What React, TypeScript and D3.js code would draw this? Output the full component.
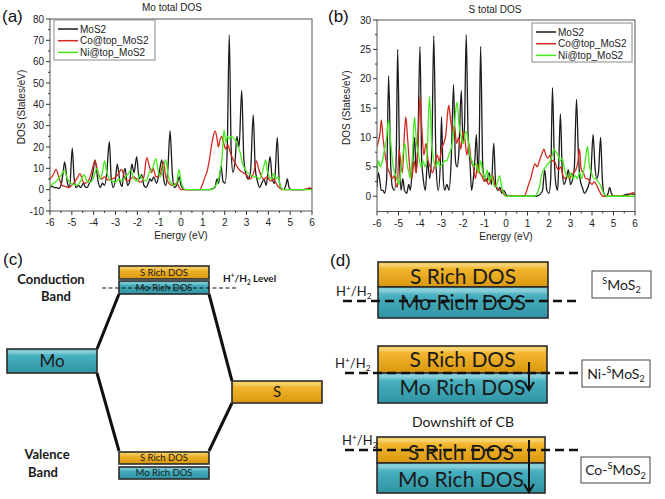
import React from "react";
import * as d3 from "d3";

type Pt = [number, number];

// ---------- data ----------
const energyTicks = [-6, -5, -4, -3, -2, -1, 0, 1, 2, 3, 4, 5, 6];
const moYTicks = [-10, 0, 10, 20, 30, 40, 50, 60, 70, 80];
const sYTicks = [0, 5, 10, 15, 20, 25, 30];
const seriesNames = ["MoS2", "Co@top_MoS2", "Ni@top_MoS2"];
const seriesColors = ["#1b1b1b", "#d32a1f", "#44ec1c"];

const moDosMoS2: Pt[] = [[-6,1],[-5.9,1.5],[-5.8,1],[-5.7,1],[-5.6,0.5],[-5.5,2],[-5.4,8],[-5.33,13],[-5.2,3],[-5.1,1],[-4.98,19.5],[-4.9,6],[-4.8,1],[-4.7,2],[-4.6,1],[-4.47,3],[-4.4,1.5],[-4.3,1],[-4.2,3],[-4.1,5],[-4.02,9],[-3.94,14],[-3.8,4],[-3.7,1],[-3.6,3],[-3.5,2],[-3.4,8],[-3.28,22.5],[-3.2,6],[-3.1,1],[-3.0,5],[-2.92,12],[-2.8,4],[-2.7,1.5],[-2.62,8],[-2.56,10],[-2.45,2],[-2.35,4],[-2.25,12],[-2.15,8],[-2.03,15.5],[-1.92,5],[-1.8,7],[-1.7,2],[-1.6,1],[-1.5,3],[-1.42,5],[-1.35,4],[-1.25,6],[-1.12,3],[-1.0,8],[-0.88,14],[-0.78,4],[-0.7,2],[-0.6,10],[-0.5,27.5],[-0.4,8],[-0.3,1],[-0.2,2],[-0.08,6],[0,2],[0.1,0.5],[0.2,0],[1.3,0],[1.45,0.5],[1.55,1],[1.65,5],[1.72,3],[1.84,11],[1.92,4],[2.02,3],[2.12,20],[2.21,72.5],[2.3,18],[2.38,8],[2.48,14],[2.56,25],[2.66,20],[2.78,46.5],[2.88,14],[2.98,7],[3.08,5],[3.18,8],[3.31,35],[3.4,10],[3.5,4],[3.6,1],[3.7,3],[3.8,5],[3.9,2],[4.0,10],[4.08,15.5],[4.18,5],[4.28,3],[4.41,24.5],[4.5,4],[4.6,0.5],[4.7,0],[4.8,2],[4.87,5],[4.95,1],[5.05,0],[5.6,0],[5.75,0.3],[5.9,0.6],[6,0.3]];
const moDosCo: Pt[] = [[-6,5],[-5.85,7],[-5.72,9.5],[-5.6,6],[-5.45,2],[-5.3,1.5],[-5.15,1],[-5.0,2],[-4.85,4],[-4.72,6],[-4.63,7.5],[-4.5,4],[-4.4,3],[-4.25,4],[-4.1,8],[-3.94,13.5],[-3.8,8],[-3.65,5],[-3.5,6],[-3.35,4.5],[-3.2,5],[-3.05,5.5],[-2.9,7],[-2.72,9.5],[-2.6,6],[-2.45,4],[-2.3,5],[-2.15,6],[-2.0,4.5],[-1.85,3.5],[-1.7,6],[-1.57,15],[-1.45,11],[-1.35,8],[-1.27,10],[-1.15,6],[-0.96,7],[-0.88,10],[-0.8,13],[-0.7,6],[-0.55,3],[-0.4,2],[-0.3,2.5],[-0.18,3],[-0.08,1],[0,0],[0.85,0],[1.0,3],[1.1,6],[1.18,8],[1.3,14],[1.42,22],[1.56,27.5],[1.65,24],[1.71,20],[1.78,23],[1.86,25],[1.95,22],[2.05,19],[2.15,21],[2.24,18],[2.35,15],[2.45,13],[2.55,11],[2.7,9],[2.85,8],[3.0,7],[3.15,5],[3.25,6],[3.33,8],[3.45,13.5],[3.55,10],[3.65,7],[3.8,5],[3.95,6],[4.1,4],[4.25,5],[4.35,3],[4.45,1.5],[4.6,0.3],[4.75,0],[5.6,0],[5.75,0.4],[5.9,0.8],[6,0.5]];
const moDosNi: Pt[] = [[-6,1.5],[-5.85,3],[-5.7,4],[-5.55,6],[-5.42,8],[-5.34,9],[-5.2,5],[-5.05,3],[-4.9,2.5],[-4.75,2],[-4.6,4],[-4.45,7],[-4.3,4],[-4.15,3.5],[-4.0,6],[-3.85,10],[-3.72,5],[-3.6,8],[-3.5,13.5],[-3.4,8],[-3.28,5],[-3.15,4],[-3.0,3.5],[-2.85,5],[-2.7,4],[-2.55,6],[-2.45,7],[-2.3,9],[-2.15,5],[-2.0,4],[-1.9,7],[-1.75,5],[-1.6,4],[-1.45,8],[-1.3,10],[-1.15,14.5],[-1.05,9],[-0.95,6],[-0.82,10],[-0.7,14],[-0.58,6],[-0.45,3],[-0.3,2],[-0.18,4],[-0.09,9.5],[0,4],[0.1,1],[0.2,0],[1.4,0],[1.55,1.5],[1.7,4],[1.8,9],[1.88,15],[1.97,28],[2.05,22],[2.13,25],[2.22,24],[2.3,25],[2.42,24],[2.52,23],[2.62,20],[2.72,17],[2.82,12],[2.92,10],[3.05,8],[3.18,7],[3.3,6],[3.45,6],[3.6,5],[3.72,8],[3.82,12],[3.88,14],[3.95,9],[4.05,6],[4.15,5],[4.25,7.5],[4.35,5],[4.45,6],[4.52,3],[4.6,0.5],[4.7,0],[6,0]];

const sDosMoS2: Pt[] = [[-6,1.5],[-5.94,4],[-5.88,3],[-5.8,1],[-5.72,1],[-5.65,0.5],[-5.55,3],[-5.46,20.5],[-5.36,5],[-5.28,1.5],[-5.18,1],[-5.1,8],[-5.04,25],[-4.95,6],[-4.88,1],[-4.8,3],[-4.72,1],[-4.62,0.5],[-4.52,2],[-4.45,1],[-4.35,5],[-4.25,10],[-4.18,4],[-4.1,9],[-4.0,25.5],[-3.92,6],[-3.85,3],[-3.75,1],[-3.65,6],[-3.55,3],[-3.45,8],[-3.36,27.3],[-3.25,5],[-3.15,1],[-3.05,6],[-3.0,13.5],[-2.92,3],[-2.85,1],[-2.75,2],[-2.65,1],[-2.55,6],[-2.44,19],[-2.35,6],[-2.28,5],[-2.2,7],[-2.08,18],[-2.0,9],[-1.93,12],[-1.85,27.5],[-1.76,10],[-1.68,6],[-1.6,1],[-1.52,3],[-1.45,6],[-1.38,10.5],[-1.3,4],[-1.25,8],[-1.18,25.5],[-1.08,5],[-1.0,3],[-0.9,2.5],[-0.78,4],[-0.68,2],[-0.57,9],[-0.48,2],[-0.38,1],[-0.28,1.5],[-0.2,0.5],[-0.1,1],[0,0.3],[0.1,0],[1.4,0],[1.55,0.2],[1.7,1],[1.8,4.5],[1.9,1],[2.0,0.5],[2.08,3],[2.16,18.5],[2.25,6],[2.32,2],[2.4,1],[2.45,5],[2.53,14],[2.62,4],[2.7,2],[2.8,3],[2.9,4.5],[3.0,2],[3.1,3],[3.18,5],[3.28,16.5],[3.36,8],[3.44,3],[3.55,1.5],[3.65,0.5],[3.75,1],[3.85,2],[3.95,4],[4.05,10.5],[4.14,5],[4.22,3],[4.3,4],[4.4,10],[4.48,3],[4.55,0.5],[4.65,0],[4.75,0.5],[4.82,1.5],[4.9,0.5],[5.0,0],[5.3,0],[5.5,0.2],[5.8,0.4],[6,0.3]];
const sDosCo: Pt[] = [[-6,8.5],[-5.92,9.5],[-5.85,11],[-5.8,13],[-5.72,10],[-5.62,7],[-5.52,5],[-5.42,4],[-5.3,3],[-5.2,3.5],[-5.12,2],[-5.05,1.5],[-4.98,8],[-4.9,6],[-4.82,4],[-4.72,11],[-4.66,13.5],[-4.58,10],[-4.48,5],[-4.38,3],[-4.28,6],[-4.18,4],[-4.08,10],[-4.0,17],[-3.92,12],[-3.82,7],[-3.72,9],[-3.62,6],[-3.52,5],[-3.42,4],[-3.3,5.5],[-3.2,7],[-3.1,6],[-3.0,8],[-2.9,9],[-2.8,10.5],[-2.72,14],[-2.66,15.5],[-2.58,13],[-2.48,11],[-2.4,12],[-2.3,9],[-2.2,10],[-2.1,8],[-2.0,11],[-1.92,10],[-1.82,7],[-1.72,9],[-1.62,6],[-1.52,5],[-1.42,3],[-1.32,5.5],[-1.22,4],[-1.12,3.5],[-1.02,2.5],[-0.92,3],[-0.82,2],[-0.72,2.5],[-0.62,3.5],[-0.52,2],[-0.42,1.5],[-0.3,1],[-0.2,1],[-0.1,0.3],[0,0],[0.85,0],[0.95,0.8],[1.05,2],[1.15,3],[1.25,4.5],[1.35,5.5],[1.45,5],[1.55,6],[1.65,7],[1.77,8],[1.85,7],[1.95,6.5],[2.05,7],[2.15,6],[2.25,6],[2.35,5],[2.45,4.5],[2.55,5],[2.65,3.5],[2.75,3],[2.85,3.5],[2.95,3],[3.05,3.5],[3.15,4],[3.25,4.5],[3.35,6],[3.42,8],[3.5,4.5],[3.6,4],[3.7,3],[3.8,3],[3.9,2.5],[4.0,2],[4.1,2.5],[4.2,2],[4.3,1.2],[4.4,0.5],[4.5,0],[5.6,0],[5.75,0.3],[5.9,0.6],[6,0.4]];
const sDosNi: Pt[] = [[-6,4],[-5.93,6],[-5.85,5],[-5.75,6],[-5.65,8],[-5.55,10],[-5.47,13],[-5.38,10],[-5.28,6],[-5.18,4],[-5.08,3],[-4.98,2],[-4.9,4],[-4.8,7],[-4.7,9],[-4.62,6],[-4.52,4],[-4.45,3],[-4.35,7],[-4.26,13.5],[-4.16,9],[-4.06,7],[-3.96,5],[-3.86,6],[-3.76,5],[-3.66,8],[-3.56,17],[-3.46,9],[-3.36,6],[-3.26,5],[-3.16,6],[-3.06,5],[-2.96,5.5],[-2.86,6],[-2.76,6],[-2.66,7],[-2.56,8],[-2.46,10],[-2.38,13],[-2.28,16],[-2.18,12],[-2.08,10],[-1.98,9],[-1.88,11],[-1.78,10],[-1.68,7],[-1.58,6],[-1.48,5],[-1.38,5.5],[-1.28,4],[-1.18,6],[-1.08,4],[-0.98,3],[-0.88,4.5],[-0.78,2.5],[-0.68,3.5],[-0.58,2],[-0.48,1.5],[-0.38,2.5],[-0.3,3.5],[-0.2,1.5],[-0.1,0.5],[0,0],[1.35,0],[1.45,0.5],[1.55,1.5],[1.65,3.5],[1.75,4.5],[1.85,5],[1.95,5.5],[2.05,6],[2.15,7],[2.23,8],[2.32,7.5],[2.42,7],[2.52,6],[2.62,6.5],[2.72,4.5],[2.82,3.5],[2.92,3],[3.02,4],[3.12,3],[3.22,3.5],[3.32,3],[3.42,4],[3.52,3],[3.62,4.5],[3.72,7],[3.79,8.5],[3.88,5],[3.98,4],[4.08,3],[4.18,3],[4.28,2.5],[4.38,2],[4.48,1],[4.58,0.3],[4.68,0],[6,0]];

const moSeries = [moDosMoS2, moDosCo, moDosNi];
const sSeries = [sDosMoS2, sDosCo, sDosNi];

const FONT = "Arial, 'Liberation Sans', sans-serif";
const DFONT = "Lato, 'Open Sans', sans-serif";

type PanelProps = {
  id: string;
  title: string;
  x0: number; x1: number; y0: number; y1: number;
  yDomain: [number, number];
  yTicks: number[];
  yMinorStep: number;
  series: Pt[][];
  legend: { x: number; y: number; w: number; h: number };
  yLabelX: number;
  titleX: number;
  titleY: number;
};

function DosPanel(p: PanelProps) {
  const x = d3.scaleLinear().domain([-6, 6]).range([p.x0, p.x1]);
  const y = d3.scaleLinear().domain(p.yDomain).range([p.y1, p.y0]);
  const line = d3.line<Pt>().x(d => x(d[0])).y(d => y(d[1])).curve(d3.curveMonotoneX);
  const yMinor: number[] = [];
  for (let i = 0; i < p.yTicks.length - 1; i++) yMinor.push(p.yTicks[i] + p.yMinorStep);
  const xMinor = energyTicks.slice(0, -1).map(t => t + 0.5);
  const tc = "#333";
  return (
    <g>
      <defs>
        <clipPath id={p.id}>
          <rect x={p.x0} y={p.y0} width={p.x1 - p.x0} height={p.y1 - p.y0} />
        </clipPath>
      </defs>
      <text x={p.titleX} y={p.titleY} textAnchor="middle" fontFamily={FONT} fontSize={10} fill="#222">{p.title}</text>
      <g clipPath={`url(#${p.id})`}>
        {p.series.map((s, i) => (
          <path key={i} d={line(s) || ""} fill="none" stroke={seriesColors[i]} strokeWidth={1.3} strokeLinejoin="round" />
        ))}
      </g>
      <rect x={p.x0} y={p.y0} width={p.x1 - p.x0} height={p.y1 - p.y0} fill="none" stroke="#555" strokeWidth={1} />
      {p.yTicks.map(t => (
        <g key={"yt" + t}>
          <line x1={p.x0 - 4} x2={p.x0} y1={y(t)} y2={y(t)} stroke={tc} />
          <text x={p.x0 - 6} y={y(t) + 3.5} textAnchor="end" fontFamily={FONT} fontSize={10} fill="#222">{t}</text>
        </g>
      ))}
      {yMinor.map(t => (
        <line key={"ym" + t} x1={p.x0 - 2} x2={p.x0} y1={y(t)} y2={y(t)} stroke={tc} />
      ))}
      {energyTicks.map(t => (
        <g key={"xt" + t}>
          <line x1={x(t)} x2={x(t)} y1={p.y1} y2={p.y1 + 4} stroke={tc} />
          <text x={x(t)} y={p.y1 + 15} textAnchor="middle" fontFamily={FONT} fontSize={10} fill="#222">{t}</text>
        </g>
      ))}
      {xMinor.map(t => (
        <line key={"xm" + t} x1={x(t)} x2={x(t)} y1={p.y1} y2={p.y1 + 2} stroke={tc} />
      ))}
      <text x={(p.x0 + p.x1) / 2} y={p.y1 + 28} textAnchor="middle" fontFamily={FONT} fontSize={10} fill="#222">Energy (eV)</text>
      <text transform={`translate(${p.yLabelX},${(p.y0 + p.y1) / 2 - 8}) rotate(-90)`} textAnchor="middle" fontFamily={FONT} fontSize={10} fill="#222">DOS (States/eV)</text>
      <rect x={p.legend.x} y={p.legend.y} width={p.legend.w} height={p.legend.h} fill="#fff" stroke="#8a8a8a" strokeWidth={1} />
      {seriesNames.map((n, i) => {
        const ly = p.legend.y + 9 + i * 11.7;
        return (
          <g key={n}>
            <line x1={p.legend.x + 4} x2={p.legend.x + 24} y1={ly} y2={ly} stroke={seriesColors[i]} strokeWidth={1.5} />
            <text x={p.legend.x + 26} y={ly + 3.5} fontFamily={FONT} fontSize={10} fill="#222">{n}</text>
          </g>
        );
      })}
    </g>
  );
}

function Bar({ x, y, w, h, kind, label, fs, ty }: { x: number; y: number; w: number; h: number; kind: "or" | "te"; label?: string; fs?: number; ty?: number }) {
  return (
    <g>
      <rect x={x} y={y} width={w} height={h} fill={`url(#g${kind})`} stroke="#2b2b2b" strokeWidth={1.6} />
      <rect x={x + 2} y={y + 2} width={w - 4} height={Math.max(1, h * 0.12)} fill="#fff" opacity={0.18} />
      {label && (
        <text x={x + w / 2} y={ty !== undefined ? ty : y + h / 2 + (fs || 10) * 0.35} textAnchor="middle" fontFamily={DFONT} fontSize={fs || 10} fill="#1a1a1a">{label}</text>
      )}
    </g>
  );
}

function HLabel({ x, y, fs }: { x: number; y: number; fs: number }) {
  return (
    <text x={x} y={y} fontFamily={DFONT} fontSize={fs} fill="#1a1a1a">
      H<tspan fontSize={fs * 0.65} dy={-fs * 0.4}>+</tspan>
      <tspan dy={fs * 0.4}>/H</tspan>
      <tspan fontSize={fs * 0.65} dy={fs * 0.25}>2</tspan>
    </text>
  );
}

function SampleBox({ x, y, w, h, prefix }: { x: number; y: number; w: number; h: number; prefix: string }) {
  const fs = 14;
  return (
    <g>
      <rect x={x} y={y} width={w} height={h} fill="#fff" stroke="#444" strokeWidth={1} />
      <text x={x + w / 2} y={y + h / 2 + 5} textAnchor="middle" fontFamily={DFONT} fontSize={fs} fill="#1a1a1a">
        {prefix}
        <tspan fontSize={fs * 0.65} dy={-fs * 0.4}>S</tspan>
        <tspan dy={fs * 0.4}>MoS</tspan>
        <tspan fontSize={fs * 0.65} dy={fs * 0.25}>2</tspan>
      </text>
    </g>
  );
}

function Arrow({ x, y1, y2 }: { x: number; y1: number; y2: number }) {
  return (
    <g stroke="#111" strokeWidth={2} fill="none">
      <line x1={x} x2={x} y1={y1} y2={y2} />
      <polyline points={`${x - 5},${y2 - 8} ${x},${y2} ${x + 5},${y2 - 8}`} strokeLinejoin="miter" />
    </g>
  );
}

export default function App() {
  return (
    <svg width={665} height={499} style={{ position: "absolute", left: 0, top: 0, background: "#fff" }}>
      <defs>
        <linearGradient id="gor" x1="0" y1="0" x2="0" y2="1">
          <stop offset="0" stopColor="#f7d468" />
          <stop offset="0.3" stopColor="#f1b42c" />
          <stop offset="1" stopColor="#d8980f" />
        </linearGradient>
        <linearGradient id="gte" x1="0" y1="0" x2="0" y2="1">
          <stop offset="0" stopColor="#86d0da" />
          <stop offset="0.3" stopColor="#47afbf" />
          <stop offset="1" stopColor="#2f93a3" />
        </linearGradient>
      </defs>
      <rect width={665} height={499} fill="#fff" />

      {/* (a) */}
      <text x={2} y={22} fontFamily={FONT} fontSize={17} fill="#111">(a)</text>
      <DosPanel id="clipA" title="Mo total DOS" x0={50} x1={312} y0={19} y1={211}
        yDomain={[-10, 80]} yTicks={moYTicks} yMinorStep={5} series={moSeries}
        legend={{ x: 54, y: 20, w: 101, h: 40 }} yLabelX={25} titleX={172} titleY={11} />

      {/* (b) */}
      <text x={328} y={22} fontFamily={FONT} fontSize={17} fill="#111">(b)</text>
      <DosPanel id="clipB" title="S total DOS" x0={377} x1={635} y0={20} y1={211.5}
        yDomain={[-2.6, 30]} yTicks={sYTicks} yMinorStep={2.5} series={sSeries}
        legend={{ x: 532, y: 23, w: 100, h: 39 }} yLabelX={350} titleX={495} titleY={13} />

      {/* (c) */}
      <text x={3} y={265} fontFamily={FONT} fontSize={17} fill="#111">(c)</text>
      <g stroke="#111" strokeWidth={3} fill="none">
        <line x1={119} y1={294} x2={97} y2={349} />
        <line x1={97} y1={373} x2={119} y2={451} />
        <line x1={209} y1={294} x2={232} y2={381} />
        <line x1={232} y1={403} x2={209} y2={451} />
      </g>
      <Bar x={119} y={266} w={90} h={13} kind="or" label="S Rich DOS" fs={9.5} />
      <Bar x={119} y={281} w={90} h={13} kind="te" label="Mo Rich DOS" fs={9.5} />
      <line x1={102} x2={237} y1={288} y2={288} stroke="#111" strokeWidth={1.2} strokeDasharray="4,2.5" />
      <text x={223} y={282} fontFamily={DFONT} fontSize={10} fontWeight="bold" fill="#1a1a1a">
        H<tspan fontSize={6.5} dy={-4}>+</tspan><tspan dy={4}>/H</tspan><tspan fontSize={6.5} dy={2.5}>2</tspan><tspan dy={-2.5}> Level</tspan>
      </text>
      <text x={51} y={284} textAnchor="middle" fontFamily={DFONT} fontSize={13} fontWeight="bold" fill="#1a1a1a">Conduction</text>
      <text x={56} y={301} textAnchor="middle" fontFamily={DFONT} fontSize={13} fontWeight="bold" fill="#1a1a1a">Band</text>
      <Bar x={7} y={349} w={90} h={24} kind="te" label="Mo" fs={17} />
      <Bar x={232} y={381} w={90} h={22} kind="or" label="S" fs={15} />
      <Bar x={119} y={452} w={90} h={12} kind="or" label="S Rich DOS" fs={9.5} />
      <Bar x={119} y={467} w={90} h={12} kind="te" label="Mo Rich DOS" fs={9.5} />
      <text x={47} y={459} textAnchor="middle" fontFamily={DFONT} fontSize={13} fontWeight="bold" fill="#1a1a1a">Valence</text>
      <text x={43} y={477} textAnchor="middle" fontFamily={DFONT} fontSize={13} fontWeight="bold" fill="#1a1a1a">Band</text>

      {/* (d) */}
      <text x={330} y={266} fontFamily={FONT} fontSize={17} fill="#111">(d)</text>

      <Bar x={378} y={262} w={170} h={25} kind="or" label="S Rich DOS" fs={21} ty={284} />
      <Bar x={378} y={287} w={170} h={31} kind="te" label="Mo Rich DOS" fs={21} ty={310} />
      <line x1={343} x2={577} y1={301} y2={301} stroke="#111" strokeWidth={2.5} strokeDasharray="9,5" />
      <HLabel x={336} y={296} fs={13} />
      <SampleBox x={592} y={271} w={59} h={27} prefix="" />

      <Bar x={378} y={346} w={169} h={27} kind="or" label="S Rich DOS" fs={21} ty={367} />
      <Bar x={378} y={373} w={169} h={30} kind="te" label="Mo Rich DOS" fs={21} ty={395} />
      <line x1={345} x2={578} y1={373} y2={373} stroke="#111" strokeWidth={2.5} strokeDasharray="9,5" />
      <HLabel x={335} y={368} fs={13} />
      <Arrow x={529} y1={362} y2={390} />
      <SampleBox x={582} y={360} w={68} h={27} prefix="Ni-" />

      <text x={463} y={427} textAnchor="middle" fontFamily={DFONT} fontSize={14} fill="#1a1a1a">Downshift of CB</text>

      <Bar x={377} y={437} w={168} h={26} kind="or" label="S Rich DOS" fs={21} ty={460} />
      <Bar x={377} y={463} w={168} h={30} kind="te" label="Mo Rich DOS" fs={21} ty={487} />
      <line x1={345} x2={580} y1={450} y2={450} stroke="#111" strokeWidth={2.5} strokeDasharray="9,5" />
      <HLabel x={342} y={445} fs={13} />
      <Arrow x={529} y1={440} y2={492} />
      <SampleBox x={581} y={457} w={69} h={26} prefix="Co-" />
    </svg>
  );
}
